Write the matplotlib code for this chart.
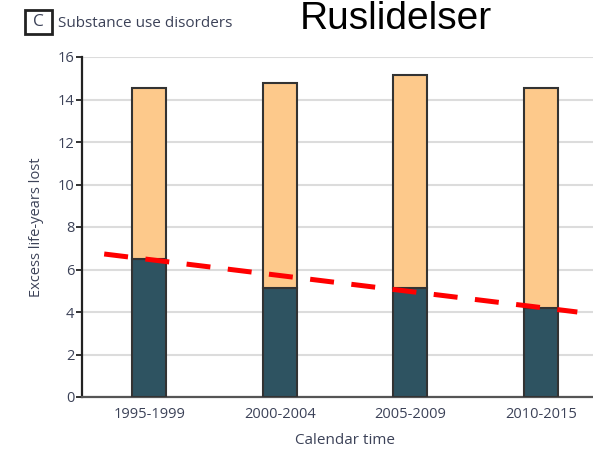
import matplotlib
matplotlib.use("Agg")
import matplotlib.pyplot as plt
from matplotlib.patches import Rectangle
from matplotlib import font_manager

# excess life-years lost per calendar period
periods = ["1995-1999", "2000-2004", "2005-2009", "2010-2015"]
dark_part = [6.5, 5.15, 5.15, 4.2]
total = [14.55, 14.8, 15.15, 14.55]
light_part = [t - d for t, d in zip(total, dark_part)]

# dashed trend drawn over the bars
trend_x = [-0.345, 3.28]
trend_y = [6.73, 4.0]

yticks = [0, 2, 4, 6, 8, 10, 12, 14, 16]

DARK = "#2e5361"
LIGHT = "#fdc98b"
EDGE = "#333333"
TXT = "#3c4258"

# pick a narrow sans if one is around, otherwise fall back
installed = {f.name for f in font_manager.fontManager.ttflist}
small_font = "DejaVu Sans"
for name in ["Liberation Sans Narrow", "DejaVu Sans Condensed", "Open Sans", "Lato"]:
    if name in installed:
        small_font = name
        break
small_size = 10.5

fig = plt.figure(figsize=(5.93, 4.49), dpi=100)
W, H = 593, 449
ax = fig.add_axes([82 / W, 52 / H, 526 / W, 340 / H])

x = range(len(periods))
ax.bar(x, dark_part, width=0.26, color=DARK, edgecolor=EDGE, linewidth=1.5, zorder=3)
ax.bar(x, light_part, bottom=dark_part, width=0.26, color=LIGHT, edgecolor=EDGE,
       linewidth=1.5, zorder=3)

ax.plot(trend_x, trend_y, color="#ff0000", lw=3.6, dashes=(4.8, 3.5), solid_capstyle="butt",
        dash_capstyle="butt", zorder=4)

ax.set_xlim(-0.515, 3.515)
ax.set_ylim(0, 16)
ax.set_yticks(yticks)
ax.set_xticks(list(x))
ax.set_xticklabels(periods)
ax.yaxis.grid(True, color="#dcdcdc", lw=1.5, zorder=0)
ax.set_axisbelow(True)

for s in ["top", "right"]:
    ax.spines[s].set_visible(False)
ax.spines["left"].set_color("#222222")
ax.spines["left"].set_linewidth(1.6)
ax.spines["bottom"].set_color("#555555")
ax.spines["bottom"].set_linewidth(1.6)

ax.tick_params(axis="y", length=4, width=1.3, color="#222222", pad=1.5,
               labelsize=small_size, labelcolor=TXT)
ax.tick_params(axis="x", length=0, pad=7, labelsize=small_size, labelcolor=TXT)
for lab in ax.get_xticklabels() + ax.get_yticklabels():
    lab.set_family(small_font)

ax.set_ylabel("Excess life-years lost", fontsize=small_size, color=TXT,
              family=small_font, labelpad=10)
ax.set_xlabel("Calendar time", fontsize=small_size + 0.5, color=TXT,
              family=small_font, labelpad=8)

# panel tag and heading
fig.patches.append(Rectangle((25 / W, 1 - 34 / H), 27 / W, 24 / H, transform=fig.transFigure,
                             fill=False, edgecolor="#222222", lw=2))
fig.text(38.5 / W, 1 - 22 / H, "C", ha="center", va="center", fontsize=small_size + 2,
         color=TXT, family=small_font)
fig.text(58 / W, 1 - 27 / H, "Substance use disorders", ha="left", va="baseline",
         fontsize=small_size + 0.5, color=TXT, family=small_font)
fig.text(300 / W, 1 - 29 / H, "Ruslidelser", ha="left", va="baseline", fontsize=28,
         color="black", family="Liberation Sans")

fig.savefig("out.png", dpi=100)
